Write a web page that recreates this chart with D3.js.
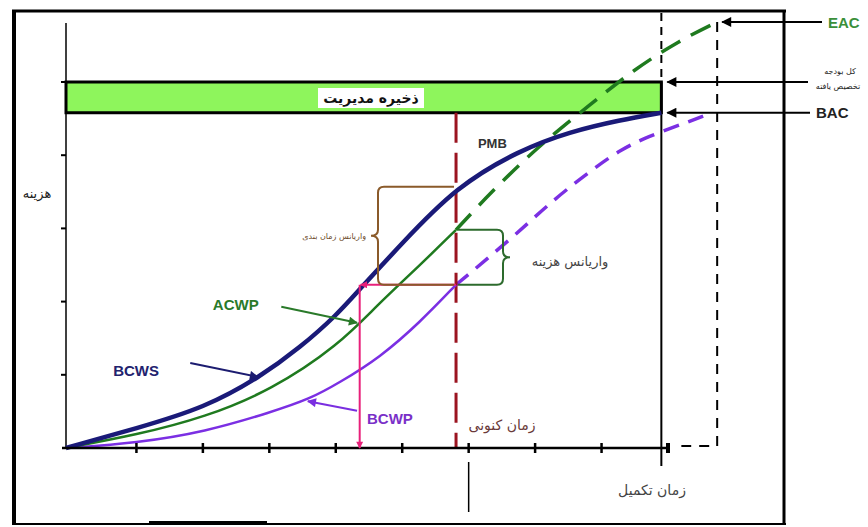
<!DOCTYPE html>
<html><head><meta charset="utf-8">
<script src="https://cdn.jsdelivr.net/npm/d3@7"></script>
<style>body{margin:0;background:#fff}svg{display:block}</style>
</head><body>
<svg id="c" width="868" height="527"></svg>
<script>
// ---------- data (time units, cost units) ----------
const xTicks = [1,2,3,4,5,6,7,8,9];
const yTicks = [1,2,3,4,5];
const bcws = [[-0.06,0],[1.01,0.27],[2.03,0.55],[2.86,0.97],[3.46,1.37],[4.02,1.82],[4.36,2.17],[4.97,2.77],[5.81,3.57],[6.77,4.07],[7.52,4.32],[8.28,4.48],[8.9,4.58]];
const acwpActual = [[-0.06,0],[1.01,0.18],[2.03,0.42],[3.03,0.79],[4.05,1.41],[4.62,1.95],[5.27,2.5],[5.81,2.98]];
const acwpForecast = [[5.81,2.98],[6.32,3.48],[7.07,4.14],[7.83,4.69],[8.47,5.16],[9.18,5.57],[9.74,5.82]];
const bcwpActual = [[-0.06,0],[1.01,0.07],[2.03,0.22],[3.03,0.49],[3.61,0.67],[4.05,0.89],[4.67,1.24],[5.27,1.72],[5.81,2.23]];
const bcwpForecast = [[5.81,2.23],[6.67,2.88],[7.27,3.39],[7.9,3.83],[8.28,4.07],[8.68,4.25],[9.29,4.45],[9.66,4.58]];
const currentTime = 5.81, completionTime = 8.9, eacTime = 9.74, esTime = 4.36;
const bac = 4.58, reserveTop = 5.0, eacValue = 5.82;
const nowBCWS = 3.57, nowACWP = 2.98, nowBCWP = 2.23;

const svg = d3.select("#c");
const x = d3.scaleLinear().domain([-0.06, 9]).range([66, 668]);
const y = d3.scaleLinear().domain([0, 5]).range([448, 82]);
const line = d3.line().x(d=>x(d[0])).y(d=>y(d[1])).curve(d3.curveBasis);

// markers
const defs = svg.append("defs");
function marker(id, color, w, h){
  defs.append("marker").attr("id",id).attr("viewBox","0 0 10 10").attr("refX",9).attr("refY",5)
    .attr("markerWidth",w).attr("markerHeight",h).attr("markerUnits","userSpaceOnUse").attr("orient","auto")
    .append("path").attr("d","M0,0 L10,5 L0,10 Z").attr("fill",color);
}
marker("ablack","#000",14,10);
marker("agreen","#2a7a2a",12,9);
marker("anavy","#1c1c70",12,9);
marker("apurple","#7a2ee0",12,9);
marker("apink","#e8207a",9,7);

// outer frame
svg.append("line").attr("x1",14).attr("x2",14).attr("y1",10).attr("y2",525).attr("stroke","#000").attr("stroke-width",4);
svg.append("line").attr("x1",12).attr("x2",786).attr("y1",11).attr("y2",11).attr("stroke","#000").attr("stroke-width",3);
svg.append("line").attr("x1",784).attr("x2",784).attr("y1",10).attr("y2",525).attr("stroke","#000").attr("stroke-width",3);
svg.append("line").attr("x1",12).attr("x2",786).attr("y1",524).attr("y2",524).attr("stroke","#000").attr("stroke-width",2);
svg.append("line").attr("x1",149).attr("x2",267).attr("y1",523).attr("y2",523).attr("stroke","#000").attr("stroke-width",4);

// management reserve band
svg.append("rect").attr("x",x(-0.06)).attr("y",y(reserveTop)).attr("width",x(completionTime)-x(-0.06)).attr("height",y(bac)-y(reserveTop))
  .attr("fill","#8ef55c").attr("stroke","#000").attr("stroke-width",3);
svg.append("rect").attr("x",318).attr("y",88).attr("width",106).attr("height",20).attr("fill","#fff");
svg.append("text").attr("x",371).attr("y",103).attr("text-anchor","middle").attr("font-family","DejaVu Sans").attr("font-weight","bold")
  .attr("font-size",14).attr("fill","#111").text("ذخیره مدیریت");

// y axis
svg.append("line").attr("x1",66).attr("x2",66).attr("y1",23).attr("y2",448).attr("stroke","#000").attr("stroke-width",1.5);
svg.selectAll(".yt").data(yTicks).enter().append("line").attr("x1",61).attr("x2",66).attr("y1",d=>y(d)).attr("y2",d=>y(d)).attr("stroke","#000").attr("stroke-width",2);

// completion vertical line
svg.append("line").attr("x1",x(completionTime)).attr("x2",x(completionTime)).attr("y1",y(reserveTop)).attr("y2",466).attr("stroke","#000").attr("stroke-width",2);
svg.append("line").attr("x1",x(completionTime)).attr("x2",x(completionTime)).attr("y1",13).attr("y2",y(reserveTop)).attr("stroke","#000").attr("stroke-width",2).attr("stroke-dasharray","8,6");
// EAC dashed box
svg.append("path").attr("d",`M${x(eacTime)},${y(eacValue)} V446 H${x(completionTime)+20}`).attr("fill","none").attr("stroke","#000").attr("stroke-width",2).attr("stroke-dasharray","10,8");

// forecast curves
svg.append("path").attr("d",line(acwpForecast)).attr("fill","none").attr("stroke","#1f7a1f").attr("stroke-width",3.5).attr("stroke-dasharray","22,12");
svg.append("path").attr("d",line(bcwpForecast)).attr("fill","none").attr("stroke","#7b2fe3").attr("stroke-width",3.5).attr("stroke-dasharray","16,10");

// current time line
svg.append("line").attr("x1",x(currentTime)).attr("x2",x(currentTime)).attr("y1",y(bac)).attr("y2",448).attr("stroke","#9b1420").attr("stroke-width",3).attr("stroke-dasharray","30,10");

// actual curves
svg.append("path").attr("d",line(bcwpActual)).attr("fill","none").attr("stroke","#7b2fe3").attr("stroke-width",2.5);
svg.append("path").attr("d",line(acwpActual)).attr("fill","none").attr("stroke","#1f7a1f").attr("stroke-width",2.5);
svg.append("path").attr("d",line(bcws)).attr("fill","none").attr("stroke","#1a1a78").attr("stroke-width",4.5);

// x axis
svg.append("line").attr("x1",62).attr("x2",x(9)).attr("y1",448).attr("y2",448).attr("stroke","#000").attr("stroke-width",2.5);
svg.selectAll(".xt").data(xTicks).enter().append("line").attr("x1",d=>x(d)).attr("x2",d=>x(d)).attr("y1",443).attr("y2",453)
  .attr("stroke","#000").attr("stroke-width",d=>d===9?4:2.5);
svg.append("line").attr("x1",x(6)).attr("x2",x(6)).attr("y1",462).attr("y2",512).attr("stroke","#000").attr("stroke-width",1.5);

// variance arrows (pink)
svg.append("line").attr("x1",x(currentTime)).attr("x2",x(esTime)+1).attr("y1",y(nowBCWP)).attr("y2",y(nowBCWP)).attr("stroke","#e8207a").attr("stroke-width",2).attr("marker-end","url(#apink)");
svg.append("line").attr("x1",x(esTime)).attr("x2",x(esTime)).attr("y1",y(nowBCWP)).attr("y2",y(0)).attr("stroke","#e8207a").attr("stroke-width",2).attr("marker-end","url(#apink)");

// braces
function braceLeft(xr, xl, y1, y2, color){
  const ym=(y1+y2)/2, r=6;
  return svg.append("path").attr("d",`M${xr},${y1} H${xl+r} Q${xl},${y1} ${xl},${y1+r} V${ym-r} Q${xl},${ym} ${xl-7},${ym} Q${xl},${ym} ${xl},${ym+r} V${y2-r} Q${xl},${y2} ${xl+r},${y2} H${xr}`)
    .attr("fill","none").attr("stroke",color).attr("stroke-width",2);
}
function braceRight(xl, xr, y1, y2, color){
  const ym=(y1+y2)/2, r=6;
  return svg.append("path").attr("d",`M${xl},${y1} H${xr-r} Q${xr},${y1} ${xr},${y1+r} V${ym-r} Q${xr},${ym} ${xr+7},${ym} Q${xr},${ym} ${xr},${ym+r} V${y2-r} Q${xr},${y2} ${xr-r},${y2} H${xl}`)
    .attr("fill","none").attr("stroke",color).attr("stroke-width",2);
}
braceLeft(x(currentTime)-2, 378, y(nowBCWS), y(nowBCWP), "#8a5a2a");
braceRight(x(currentTime)+2, 503, y(nowACWP), y(nowBCWP), "#2d6b2d");

// labels
const fa = "DejaVu Sans", en = "Liberation Sans, Arial, sans-serif";
svg.append("text").attr("x",366).attr("y",239).attr("text-anchor","end").attr("font-family",fa).attr("font-size",8).attr("fill","#6b4a2a").text("واریانس زمان بندی");
svg.append("text").attr("x",570).attr("y",266).attr("text-anchor","middle").attr("font-family",fa).attr("font-size",13).attr("fill","#444").text("واریانس هزینه");
svg.append("text").attr("x",37).attr("y",198).attr("text-anchor","middle").attr("font-family",fa).attr("font-size",13).attr("fill","#222").text("هزینه");
svg.append("text").attr("x",502).attr("y",430).attr("text-anchor","middle").attr("font-family",fa).attr("font-size",14).attr("fill","#6a3a3a").text("زمان کنونی");
svg.append("text").attr("x",652).attr("y",495).attr("text-anchor","middle").attr("font-family",fa).attr("font-size",14).attr("fill","#444").text("زمان تکمیل");
svg.append("text").attr("x",840).attr("y",74).attr("text-anchor","middle").attr("font-family",fa).attr("font-size",8).attr("fill","#222").text("کل بودجه");
svg.append("text").attr("x",838).attr("y",89).attr("text-anchor","middle").attr("font-family",fa).attr("font-size",8).attr("fill","#222").text("تخصیص یافته");

svg.append("text").attr("x",x(6.14)).attr("y",y(4.1)).attr("font-family",en).attr("font-weight","bold").attr("font-size",13).attr("fill","#333").text("PMB");
svg.append("text").attr("x",x(2.15)).attr("y",y(1.885)).attr("font-family",en).attr("font-weight","bold").attr("font-size",15).attr("fill","#2a7a2a").text("ACWP");
svg.append("text").attr("x",x(0.65)).attr("y",y(0.98)).attr("font-family",en).attr("font-weight","bold").attr("font-size",15).attr("fill","#22226e").text("BCWS");
svg.append("text").attr("x",x(4.47)).attr("y",y(0.33)).attr("font-family",en).attr("font-weight","bold").attr("font-size",15).attr("fill","#7a30c8").text("BCWP");

svg.append("line").attr("x1",x(3.18)).attr("y1",y(1.93)).attr("x2",x(4.32)).attr("y2",y(1.71)).attr("stroke","#2a7a2a").attr("stroke-width",2).attr("marker-end","url(#agreen)");
svg.append("line").attr("x1",x(1.81)).attr("y1",y(1.16)).attr("x2",x(2.83)).attr("y2",y(0.97)).attr("stroke","#1c1c70").attr("stroke-width",2).attr("marker-end","url(#anavy)");
svg.append("line").attr("x1",x(4.32)).attr("y1",y(0.51)).attr("x2",x(3.58)).attr("y2",y(0.64)).attr("stroke","#7a2ee0").attr("stroke-width",2).attr("marker-end","url(#apurple)");

// right-side callouts
svg.append("text").attr("x",828).attr("y",28).attr("font-family",en).attr("font-weight","bold").attr("font-size",15).attr("fill","#3a8f3a").text("EAC");
svg.append("line").attr("x1",822).attr("x2",x(eacTime)+5).attr("y1",y(eacValue)).attr("y2",y(eacValue)).attr("stroke","#000").attr("stroke-width",2).attr("marker-end","url(#ablack)");
svg.append("line").attr("x1",808).attr("x2",x(completionTime)+6).attr("y1",y(reserveTop)).attr("y2",y(reserveTop)).attr("stroke","#000").attr("stroke-width",2).attr("marker-end","url(#ablack)");
svg.append("text").attr("x",816).attr("y",118).attr("font-family",en).attr("font-weight","bold").attr("font-size",15).attr("fill","#222").text("BAC");
svg.append("line").attr("x1",810).attr("x2",x(completionTime)+6).attr("y1",y(bac)).attr("y2",y(bac)).attr("stroke","#000").attr("stroke-width",2).attr("marker-end","url(#ablack)");
</script>
</body></html>
